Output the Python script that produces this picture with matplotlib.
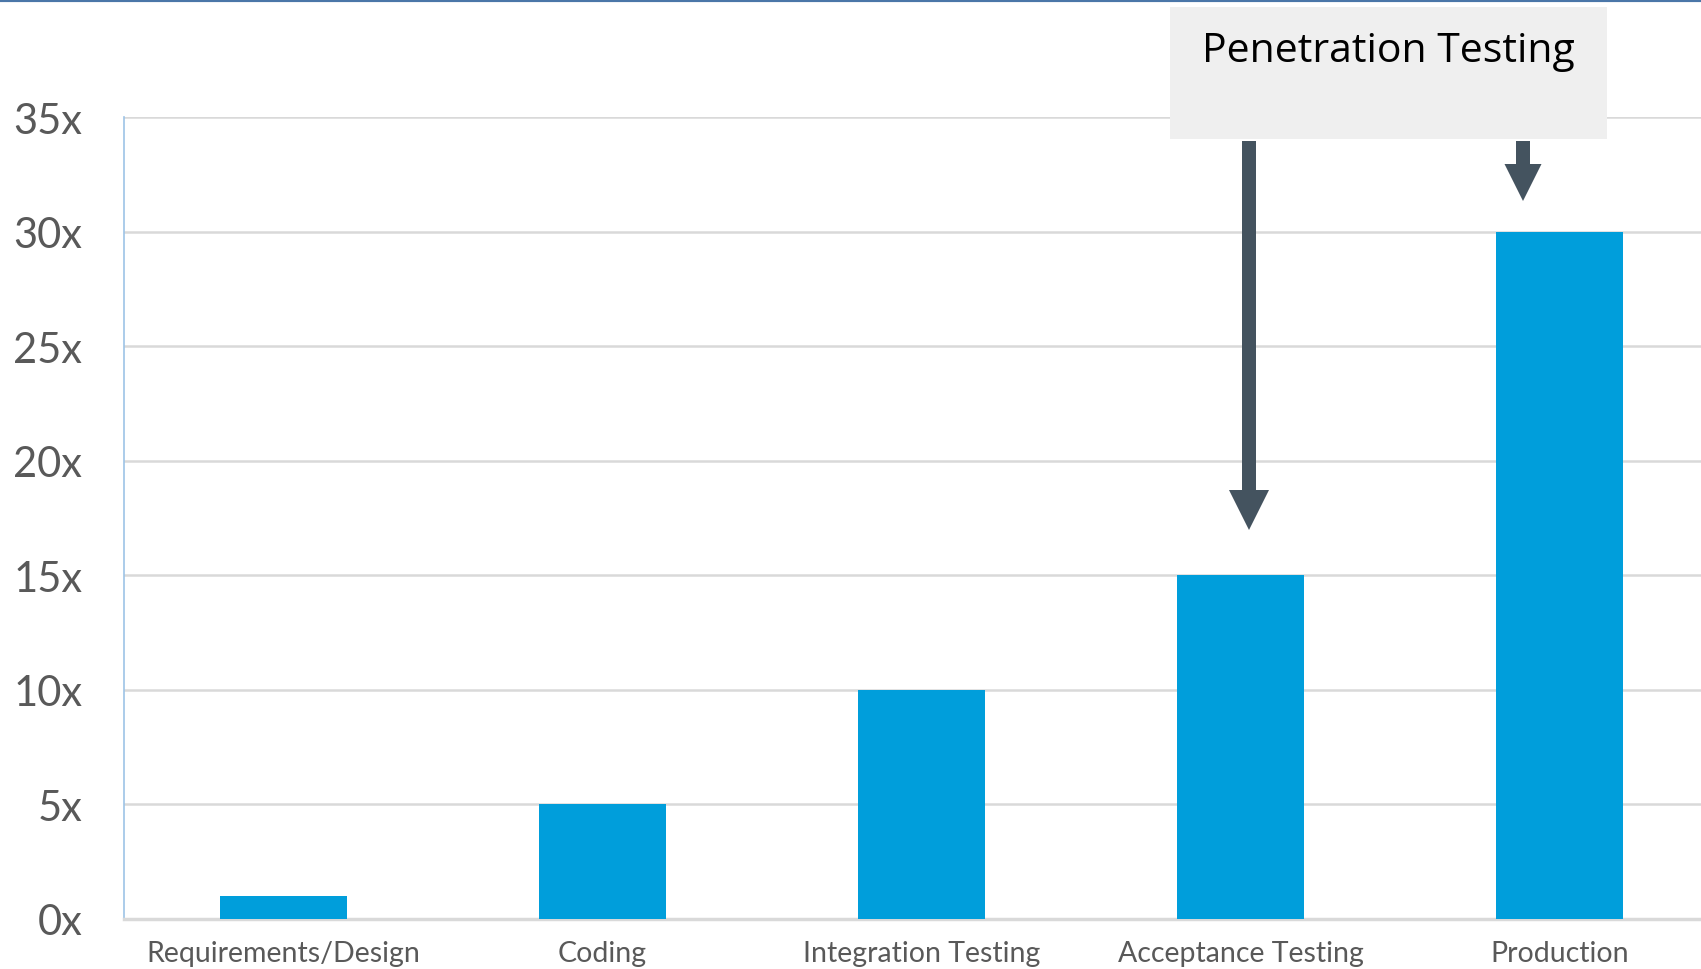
import numpy as np
import matplotlib.pyplot as plt
from matplotlib.patches import FancyArrow, Rectangle

stages = ['Requirements/Design', 'Coding', 'Integration Testing',
          'Acceptance Testing', 'Production']
cost = [1, 5, 10, 15, 30]
yticks = [0, 5, 10, 15, 20, 25, 30, 35]
ylabels = ['%dx' % v for v in yticks]

W, H = 1701, 970
fig = plt.figure(figsize=(W / 100, H / 100), dpi=100)

# main axes, in pixel layout of the reference
left, base, top = 124, 920, 118
ax = fig.add_axes([left / W, (H - base) / H, (W - left) / W, (base - top) / H])
x = np.arange(len(stages))
ax.bar(x, cost, width=0.4, color='#009EDB', zorder=3)
ax.set_xlim(-0.5, (W - left) / 319 - 0.5)
ax.set_ylim(0, 35)
ax.set_yticks(yticks)
ax.set_yticklabels(ylabels)
ax.set_xticks(x)
ax.set_xticklabels(stages)
ax.tick_params(length=0)
ax.tick_params(axis='y', pad=30, labelsize=30, labelcolor='#595959')
ax.tick_params(axis='x', pad=15, labelsize=20.5, labelcolor='#595959')
for lab in ax.get_xticklabels() + ax.get_yticklabels():
    lab.set_family(['Lato', 'DejaVu Sans'])
ax.grid(axis='y', color='#d9d9d9', linewidth=1.8, zorder=0)
for s in ['top', 'right']:
    ax.spines[s].set_visible(False)
ax.spines['left'].set_color('#9dc3e6')
ax.spines['left'].set_linewidth(1.2)
ax.spines['bottom'].set_color('#d9d9d9')
ax.spines['bottom'].set_linewidth(2.5)

# overlay in pixel coordinates for the callout
ov = fig.add_axes([0, 0, 1, 1])
ov.set_xlim(0, W)
ov.set_ylim(H, 0)
ov.axis('off')
ov.patch.set_alpha(0)
ov.plot([0, W], [1, 1], color='#4a76a8', linewidth=3)
ov.add_patch(Rectangle((1170, 8), 437, 132, facecolor='#efefef', edgecolor='none'))
ov.text(1388, 62, 'Penetration Testing', ha='center', va='baseline',
        fontsize=29.5, family=['Open Sans', 'DejaVu Sans'], color='black')
arrow_col = '#44535f'
ov.add_patch(FancyArrow(1249, 142, 0, 531 - 142, width=14, head_width=40,
                        head_length=40, length_includes_head=True,
                        color=arrow_col, linewidth=0))
ov.add_patch(FancyArrow(1523, 142, 0, 202 - 142, width=14, head_width=37,
                        head_length=37, length_includes_head=True,
                        color=arrow_col, linewidth=0))

fig.savefig('out.png', dpi=100)
